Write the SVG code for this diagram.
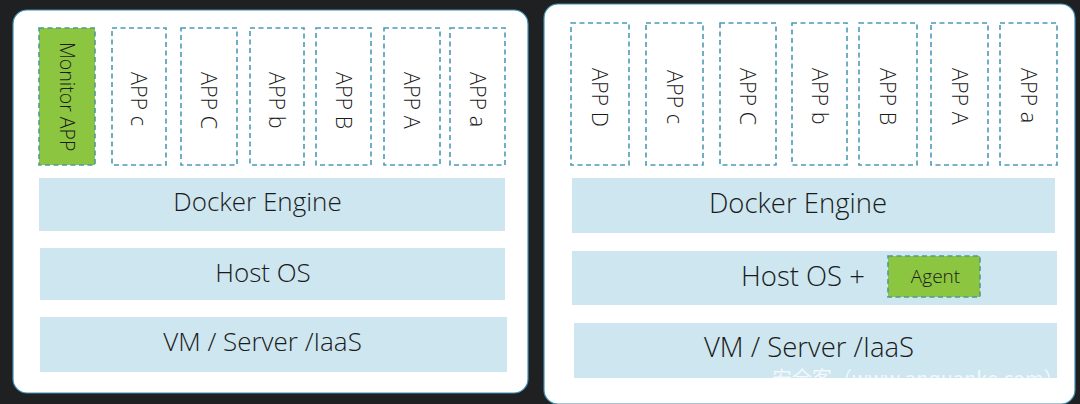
<svg xmlns="http://www.w3.org/2000/svg" width="1080" height="404" viewBox="0 0 1080 404">
<style>
.bg{fill:#1f2021}
.panel{fill:#ffffff;stroke:#3f8fb3;stroke-width:1.2}
.band{fill:#cde6ef}
.app{fill:#ffffff;stroke:#4b9ab6;stroke-width:1.6;stroke-dasharray:5 3.5}
.green{fill:#8cc53f;stroke:#4e9a98;stroke-width:1.6;stroke-dasharray:5 3.5}
.t{font-family:"Open Sans","Liberation Sans",sans-serif;font-weight:300;fill:#1b1b1b}
.big{font-size:26px;text-anchor:middle}
.bigr{font-size:27.5px;text-anchor:middle}
.v{font-size:21.5px}
.wm{font-family:"Noto Sans CJK SC","Noto Sans",sans-serif;font-size:20px;fill:#ffffff;opacity:0.75}
</style>
<rect class="bg" x="0" y="0" width="1080" height="404"/>

<g id="left-panel">
<rect class="panel" x="13" y="10" width="515" height="383" rx="14"/>
</g>
<g id="right-panel">
<rect class="panel" x="544" y="4" width="531" height="400" rx="14"/>
</g>

<g id="left-monitor-app">
<rect class="green" x="39" y="28" width="56" height="137"/>
<text class="t" x="60" y="42" font-size="19.5" transform="rotate(90 60 42)">Monitor APP</text>
</g>
<g id="left-app-c-lower">
<rect class="app" x="112" y="28" width="54" height="137"/>
<text class="t v" x="131" y="72" transform="rotate(90 131 72)">APP c</text>
</g>
<g id="left-app-C">
<rect class="app" x="181" y="28" width="56" height="137"/>
<text class="t v" x="201" y="72" transform="rotate(90 201 72)">APP C</text>
</g>
<g id="left-app-b-lower">
<rect class="app" x="250" y="28" width="54" height="137"/>
<text class="t v" x="269" y="72" transform="rotate(90 269 72)">APP b</text>
</g>
<g id="left-app-B">
<rect class="app" x="316" y="28" width="55" height="137"/>
<text class="t v" x="335.5" y="72" transform="rotate(90 335.5 72)">APP B</text>
</g>
<g id="left-app-A">
<rect class="app" x="384" y="28" width="56" height="137"/>
<text class="t v" x="404" y="72" transform="rotate(90 404 72)">APP A</text>
</g>
<g id="left-app-a-lower">
<rect class="app" x="450" y="28" width="55" height="137"/>
<text class="t v" x="469.5" y="72" transform="rotate(90 469.5 72)">APP a</text>
</g>

<g id="left-docker-engine">
<rect class="band" x="39" y="178" width="466" height="53"/>
<text class="t big" x="257.5" y="211">Docker Engine</text>
</g>
<g id="left-host-os">
<rect class="band" x="40" y="248" width="465" height="52"/>
<text class="t big" x="263" y="282">Host OS</text>
</g>
<g id="left-vm-server-iaas">
<rect class="band" x="40" y="317" width="467" height="55"/>
<text class="t big" x="262.5" y="351">VM / Server /IaaS</text>
</g>

<g id="right-app-D">
<rect class="app" x="571" y="23" width="58" height="142"/>
<text class="t v" x="592" y="68" transform="rotate(90 592 68)">APP D</text>
</g>
<g id="right-app-c-lower">
<rect class="app" x="646" y="23" width="57" height="142"/>
<text class="t v" x="666.5" y="70" transform="rotate(90 666.5 70)">APP c</text>
</g>
<g id="right-app-C">
<rect class="app" x="720" y="23" width="56" height="142"/>
<text class="t v" x="740" y="68" transform="rotate(90 740 68)">APP C</text>
</g>
<g id="right-app-b-lower">
<rect class="app" x="792" y="23" width="55" height="142"/>
<text class="t v" x="811.5" y="68" transform="rotate(90 811.5 68)">APP b</text>
</g>
<g id="right-app-B">
<rect class="app" x="859" y="23" width="58" height="142"/>
<text class="t v" x="880" y="68" transform="rotate(90 880 68)">APP B</text>
</g>
<g id="right-app-A">
<rect class="app" x="931" y="23" width="57" height="142"/>
<text class="t v" x="951.5" y="68" transform="rotate(90 951.5 68)">APP A</text>
</g>
<g id="right-app-a-lower">
<rect class="app" x="1000" y="23" width="57" height="142"/>
<text class="t v" x="1020.5" y="68" transform="rotate(90 1020.5 68)">APP a</text>
</g>

<g id="right-docker-engine">
<rect class="band" x="572" y="178" width="483" height="55"/>
<text class="t bigr" x="798" y="213">Docker Engine</text>
</g>
<g id="right-host-os">
<rect class="band" x="572" y="251" width="485" height="54"/>
<text class="t bigr" x="803" y="286">Host OS +</text>
</g>
<g id="right-agent">
<rect class="green" x="888" y="256" width="92" height="41"/>
<text class="t" x="935.5" y="283" font-size="19" text-anchor="middle">Agent</text>
</g>
<g id="right-vm-server-iaas">
<rect class="band" x="574" y="323" width="483" height="55"/>
<text class="t bigr" x="809" y="357">VM / Server /IaaS</text>
</g>

<g id="watermark">
<text class="wm" x="772" y="386">安全客（www.anquanke.com）</text>
</g>
<g id="connectors"/>
</svg>
